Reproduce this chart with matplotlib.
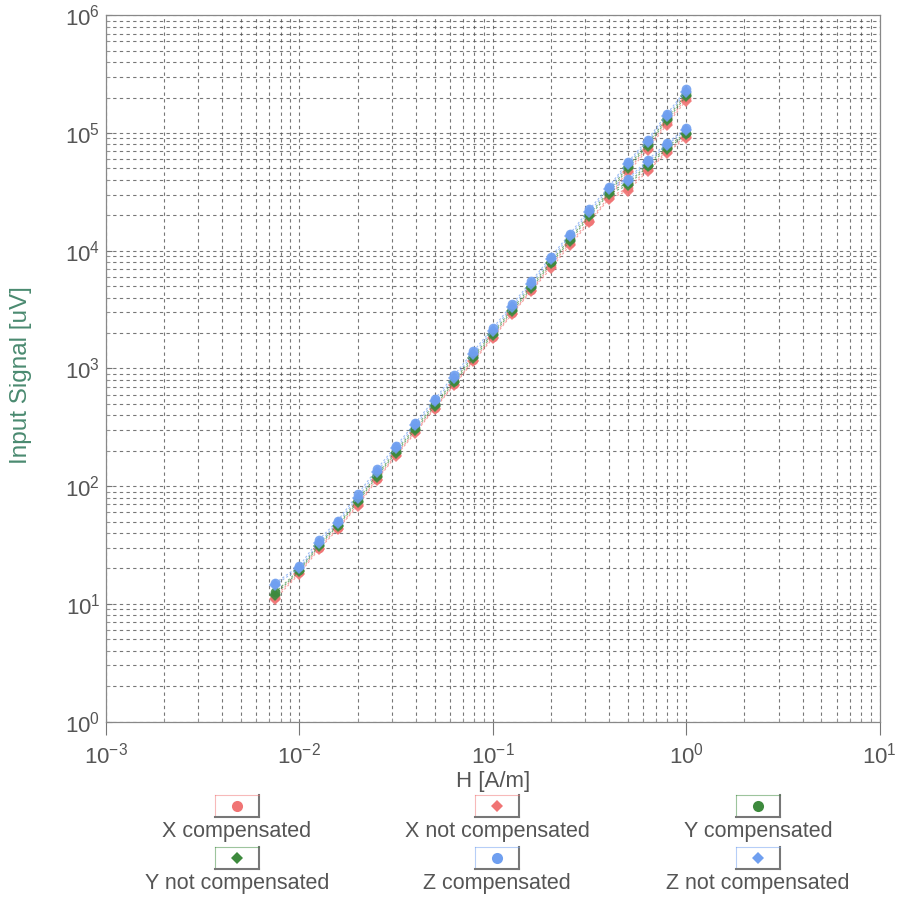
import numpy as np
import matplotlib.pyplot as plt
from matplotlib.ticker import LogLocator, NullFormatter

plt.rcParams['font.family'] = ['Liberation Sans', 'DejaVu Sans']
plt.rcParams['mathtext.default'] = 'regular'

# Feldstaerke H [A/m]
H = [0.0075, 0.01, 0.0126, 0.0158, 0.02, 0.0251, 0.0316, 0.0398, 0.0501, 0.0631, 0.0794,
     0.1, 0.126, 0.158, 0.2, 0.251, 0.316, 0.398, 0.501, 0.631, 0.794, 1.0]

# Eingangssignal [uV], Hauptkurve
x_comp = [11.5, 18.5, 30, 44, 70, 115, 186, 292, 465, 735, 1180, 1860, 2970, 4650, 7500,
          11700, 18000, 28500, 48500, 75000, 123000, 197000]
x_notcomp = [11, 18, 29, 43, 68, 112, 181, 284, 455, 720, 1150, 1800, 2900, 4550, 7100,
             11200, 17400, 27500, 46500, 72000, 118000, 189000]
y_comp = [12.5, 19.5, 32, 47, 76, 124, 200, 315, 500, 790, 1270, 2000, 3200, 5000, 8100,
          12700, 20400, 31800, 52500, 81000, 133000, 215000]
y_notcomp = [12, 19, 31, 46, 73, 120, 193, 303, 480, 760, 1220, 1930, 3080, 4800, 7800,
             12200, 19600, 30500, 50500, 78000, 128000, 206000]
z_comp = [15, 21, 35, 51, 85, 139, 220, 345, 550, 875, 1400, 2200, 3500, 5500, 8900,
          14000, 22500, 35000, 57000, 88000, 145000, 235000]
z_notcomp = [14.5, 20, 33, 49, 80, 132, 210, 330, 525, 830, 1330, 2100, 3350, 5250, 8500,
             13400, 21500, 33500, 55000, 84500, 139000, 225000]

# unterer Ast bei hohen Feldstaerken
H_lo = [0.398, 0.501, 0.631, 0.794, 1.0]
x_comp_lo = [28500, 34000, 49500, 70000, 94000]
x_notcomp_lo = [27500, 32500, 47500, 68000, 91000]
y_comp_lo = [31800, 37500, 54000, 76000, 101000]
y_notcomp_lo = [30500, 36000, 52000, 73000, 97500]
z_comp_lo = [35000, 41000, 59000, 82000, 110000]
z_notcomp_lo = [33500, 39500, 56500, 79000, 106000]

labels = ['X compensated', 'X not compensated', 'Y compensated',
          'Y not compensated', 'Z compensated', 'Z not compensated']

rot = '#f07474'
gruen = '#3d8a3d'
blau = '#6f9ff0'

serien = [
    (x_comp, x_comp_lo, rot, 'o'),
    (x_notcomp, x_notcomp_lo, rot, 'D'),
    (y_comp, y_comp_lo, gruen, 'o'),
    (y_notcomp, y_notcomp_lo, gruen, 'D'),
    (z_comp, z_comp_lo, blau, 'o'),
    (z_notcomp, z_notcomp_lo, blau, 'D'),
]

fig = plt.figure(figsize=(9.05, 9.02), dpi=100)
ax = fig.add_axes([0.117, 0.2, 0.855, 0.783])

for werte, werte_lo, farbe, marker in serien:
    ms = 7 if marker == 'o' else 6
    ax.plot(H, werte, color=farbe, linestyle=(0, (2, 2)), linewidth=0.8, alpha=0.7)
    ax.plot(H, werte, linestyle='none', marker=marker, markersize=ms,
            color=farbe, markeredgewidth=0, alpha=0.9)
    ax.plot(H_lo, werte_lo, color=farbe, linestyle=(0, (2, 2)), linewidth=0.8, alpha=0.7)
    ax.plot(H_lo[1:], werte_lo[1:], linestyle='none', marker=marker, markersize=ms,
            color=farbe, markeredgewidth=0, alpha=0.9)

ax.set_xscale('log')
ax.set_yscale('log')
ax.set_xlim(1e-3, 1e1)
ax.set_ylim(1e0, 1e6)

ax.xaxis.set_major_locator(LogLocator(base=10, numticks=10))
ax.yaxis.set_major_locator(LogLocator(base=10, numticks=10))
ax.xaxis.set_minor_locator(LogLocator(base=10, subs=np.arange(2, 10), numticks=20))
ax.yaxis.set_minor_locator(LogLocator(base=10, subs=np.arange(2, 10), numticks=20))
ax.xaxis.set_minor_formatter(NullFormatter())
ax.yaxis.set_minor_formatter(NullFormatter())

ax.grid(True, which='both', color='#555555', linestyle=(0, (3, 3)), linewidth=0.8, alpha=0.8)
ax.set_axisbelow(True)

ax.tick_params(axis='both', which='major', labelsize=16, labelcolor='#555555', color='#777777')
ax.tick_params(axis='x', which='major', direction='out', length=9, pad=6)
ax.tick_params(axis='y', which='major', direction='in', length=4, pad=4)
ax.tick_params(axis='both', which='minor', direction='in', length=3, color='#999999')

for seite in ['left', 'bottom', 'right', 'top']:
    ax.spines[seite].set_color('#888888')
    ax.spines[seite].set_linewidth(0.9)

ax.set_xlabel('H [A/m]', fontsize=16, color='#555555', labelpad=2)
ax.set_ylabel('Input Signal [uV]', fontsize=17.5, color='#4a8a70')
ax.yaxis.set_label_coords(-0.096, 0.49)

# Legende: Symbolkasten ueber dem Text, 2 Zeilen x 3 Spalten
spalten_x = [237, 497, 758]
zeilen_y = [806, 858]
for i, (werte, werte_lo, farbe, marker) in enumerate(serien):
    cx = spalten_x[i % 3]
    cy = zeilen_y[i // 3]
    lax = fig.add_axes([(cx - 22) / 905, 1 - (cy + 11) / 902, 44 / 905, 22 / 902])
    lax.plot([0.5], [0.5], marker=marker, markersize=8 if marker == 'o' else 6,
             color=farbe, markeredgewidth=0)
    lax.set_xlim(0, 1)
    lax.set_ylim(0, 1)
    lax.set_xticks([])
    lax.set_yticks([])
    for seite in ['left', 'top']:
        lax.spines[seite].set_color(farbe)
        lax.spines[seite].set_alpha(0.5)
        lax.spines[seite].set_linewidth(0.8)
    for seite in ['right', 'bottom']:
        lax.spines[seite].set_color('#777777')
        lax.spines[seite].set_linewidth(1.5)
    fig.text(cx / 905, 1 - (cy + 25) / 902, labels[i], ha='center', va='center',
             fontsize=15.5, color='#555555')

fig.savefig('out.png', dpi=100, facecolor='white')
